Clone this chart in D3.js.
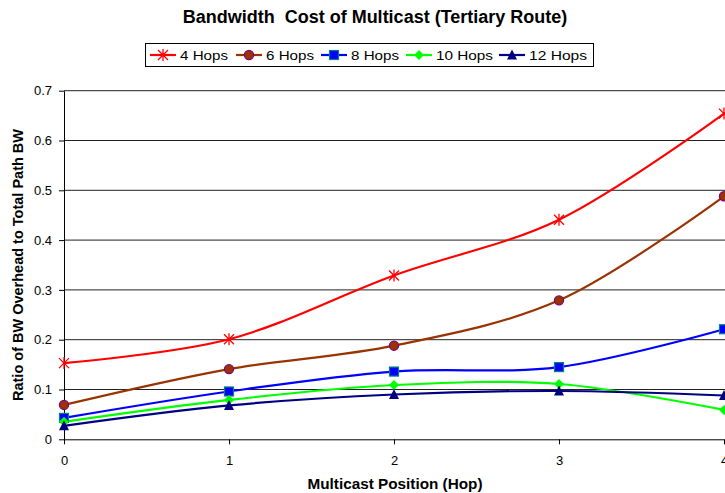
<!DOCTYPE html>
<html><head><meta charset="utf-8">
<script src="https://cdn.jsdelivr.net/npm/d3@7"></script>
<style>body{margin:0;background:#fff;}svg{display:block;font-family:"Liberation Sans",Arial,sans-serif;}</style>
</head><body>
<svg id="c" width="725" height="493"></svg>
<script>
const positions = [0, 1, 2, 3, 4];
const seriesNames = ["4 Hops", "6 Hops", "8 Hops", "10 Hops", "12 Hops"];
const hops4  = [0.153, 0.201, 0.329, 0.441, 0.654];
const hops6  = [0.069, 0.141, 0.188, 0.279, 0.488];
const hops8  = [0.043, 0.096, 0.136, 0.145, 0.221];
const hops10 = [0.035, 0.079, 0.109, 0.111, 0.059];
const hops12 = [0.027, 0.068, 0.090, 0.097, 0.088];
const yTicks = [0, 0.1, 0.2, 0.3, 0.4, 0.5, 0.6, 0.7];
const yTickLabels = ["0", "0.1", "0.2", "0.3", "0.4", "0.5", "0.6", "0.7"];
const titleText = "Bandwidth  Cost of Multicast (Tertiary Route)";
const xTitle = "Multicast Position (Hop)";
const yTitle = "Ratio of BW Overhead to Total Path BW";

const styles = [
  {line:"#FF0000", fill:"#FF0000", stroke:"#FF0000", shape:"star"},
  {line:"#993300", fill:"#993300", stroke:"#800080", shape:"circle"},
  {line:"#0000FF", fill:"#0000FF", stroke:"#008080", shape:"square"},
  {line:"#00FF00", fill:"#00FF00", stroke:"#00FF00", shape:"diamond"},
  {line:"#000080", fill:"#000080", stroke:"#000080", shape:"triangle"}
];
const series = [hops4, hops6, hops8, hops10, hops12].map((v,i)=>({name:seriesNames[i], values:v, style:styles[i]}));

const svg = d3.select("#c");
const x = d3.scaleLinear().domain([0,4]).range([64,724]);
const y = d3.scaleLinear().domain([0,0.7]).range([439.3,90.7]);

// gridlines
svg.append("g").selectAll("line").data(yTicks.filter(d=>d>0)).join("line")
  .attr("x1",64).attr("x2",725).attr("y1",d=>y(d)).attr("y2",d=>y(d))
  .attr("stroke","#222").attr("stroke-width",1);

// y axis
const yAxis = svg.append("g").attr("transform","translate(64,0)")
  .call(d3.axisLeft(y).tickValues(yTicks).tickFormat((d,i)=>yTickLabels[i]).tickSize(5).tickSizeOuter(0));
yAxis.select(".domain").attr("stroke","#000");
yAxis.selectAll("text").attr("font-size","13px").attr("fill","#000").attr("font-family","Liberation Sans, Arial, sans-serif").attr("dx","-4");

// x axis
const xAxis = svg.append("g").attr("transform","translate(0,439.3)")
  .call(d3.axisBottom(x).tickValues(positions).tickFormat(d3.format("d")).tickSize(5).tickSizeOuter(0));
xAxis.select(".domain").attr("stroke","#000");
xAxis.selectAll("text").attr("font-size","13px").attr("fill","#000").attr("font-family","Liberation Sans, Arial, sans-serif").attr("dy","1.35em");

function marker(g, shape, s){
  if(shape==="star"){
    g.append("path").attr("d","M-5,-5L5,5M-5,5L5,-5M0,-6L0,6").attr("stroke",s.stroke).attr("stroke-width",1.3).attr("fill","none");
  } else if(shape==="circle"){
    g.append("circle").attr("r",4.6).attr("fill",s.fill).attr("stroke",s.stroke).attr("stroke-width",1.2);
  } else if(shape==="square"){
    g.append("rect").attr("x",-4.5).attr("y",-4.5).attr("width",9).attr("height",9).attr("fill",s.fill).attr("stroke",s.stroke).attr("stroke-width",1.2);
  } else if(shape==="diamond"){
    g.append("path").attr("d","M0,-5L5,0L0,5L-5,0Z").attr("fill",s.fill);
  } else if(shape==="triangle"){
    g.append("path").attr("d","M0,-5.5L5,4.5L-5,4.5Z").attr("fill",s.fill);
  }
}

const line = d3.line().x((d,i)=>x(positions[i])).y(d=>y(d)).curve(d3.curveCatmullRom.alpha(0.5));
const plot = svg.append("g");
series.forEach(s=>{
  plot.append("path").datum(s.values).attr("d",line).attr("fill","none").attr("stroke",s.style.line).attr("stroke-width",2.2);
});
series.forEach(s=>{
  s.values.forEach((v,i)=>{
    const g = plot.append("g").attr("transform",`translate(${x(positions[i])},${y(v)})`);
    marker(g, s.style.shape, s.style);
  });
});

// title
svg.append("text").attr("x",375).attr("y",23).attr("text-anchor","middle")
  .attr("font-weight","bold").attr("font-size","18px").style("white-space","pre").text(titleText);

// axis titles
svg.append("text").attr("x",395).attr("y",489).attr("text-anchor","middle")
  .attr("font-weight","bold").attr("font-size","15.3px").text(xTitle);
svg.append("text").attr("transform","translate(23,265) rotate(-90)").attr("text-anchor","middle")
  .attr("font-weight","bold").attr("font-size","14.5px").text(yTitle);

// legend
const lg = svg.append("g");
lg.append("rect").attr("x",145.5).attr("y",43.5).attr("width",448).attr("height",23).attr("fill","#fff").attr("stroke","#000").attr("stroke-width",1);
const legendX = [150, 236, 321, 406, 499];
const legendTextW = [48, 48, 48, 57, 58];
series.forEach((s,i)=>{
  const g = lg.append("g").attr("transform",`translate(${legendX[i]},55)`);
  g.append("line").attr("x1",0).attr("x2",26).attr("y1",0).attr("y2",0).attr("stroke",s.style.line).attr("stroke-width",2.2);
  const m = g.append("g").attr("transform","translate(13,0)");
  marker(m, s.style.shape, s.style);
  g.append("text").attr("x",30).attr("y",5).attr("font-size","13.5px").attr("fill","#000")
    .attr("textLength",legendTextW[i]).attr("lengthAdjust","spacingAndGlyphs").text(s.name);
});
</script>
</body></html>
